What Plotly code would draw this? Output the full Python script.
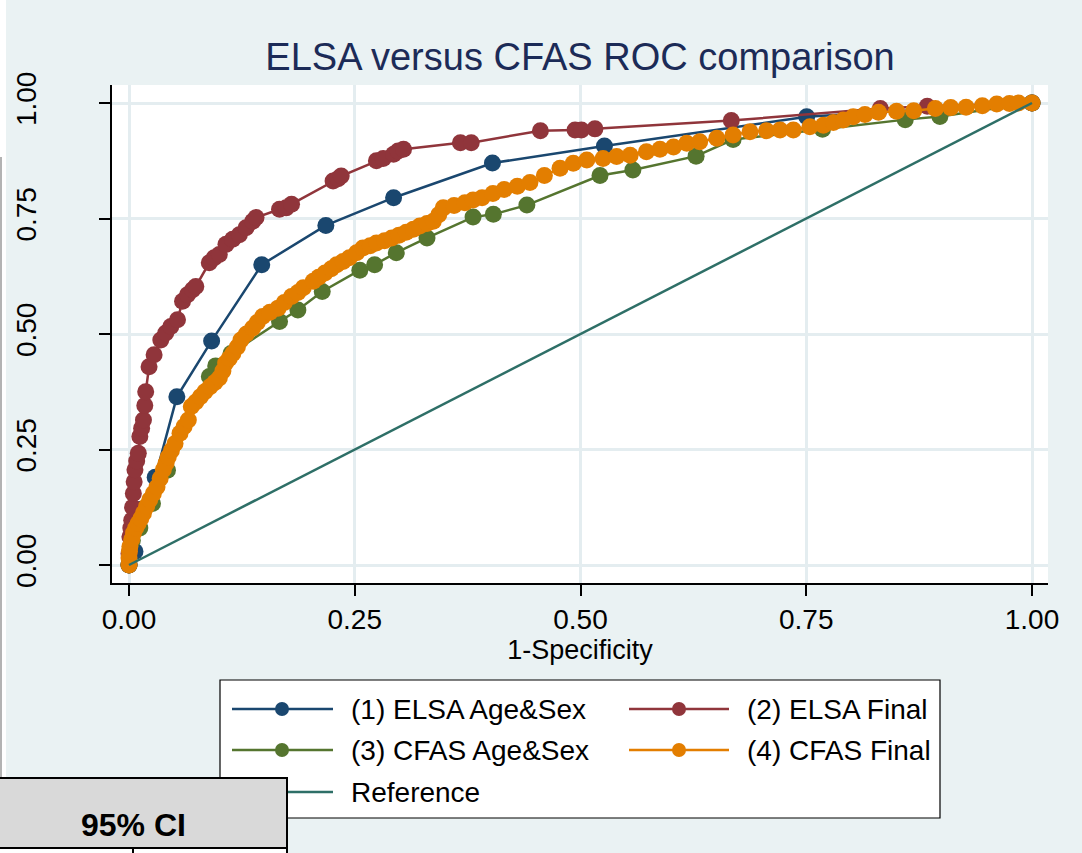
import plotly.graph_objects as go

# ---------------- data ----------------
elsa_agesex_x = [0.0, 0.0066, 0.012, 0.029, 0.053, 0.0915, 0.147, 0.218, 0.293, 0.4025, 0.5265, 0.7505, 1.0]
elsa_agesex_y = [0.0, 0.029, 0.120, 0.190, 0.364, 0.485, 0.650, 0.735, 0.795, 0.870, 0.907, 0.970, 1.0]

elsa_final_x = [0.0, 0.0, 0.001, 0.002, 0.003, 0.004, 0.0048, 0.0057, 0.0066, 0.0085, 0.0103, 0.012,
                0.014, 0.016, 0.0175, 0.0185, 0.0222, 0.0278, 0.0352, 0.0407, 0.0463, 0.0537, 0.0593,
                0.0648, 0.0704, 0.074, 0.0889, 0.0944, 0.100, 0.1074, 0.1148, 0.1222, 0.1296, 0.137,
                0.1407, 0.1667, 0.174, 0.180, 0.226, 0.2315, 0.235, 0.274, 0.2815, 0.293, 0.298, 0.304,
                0.367, 0.379, 0.4556, 0.494, 0.501, 0.516, 0.667, 0.832, 0.884, 1.0]
elsa_final_y = [0.0, 0.025, 0.061, 0.080, 0.097, 0.125, 0.155, 0.180, 0.206, 0.225, 0.242, 0.278,
                0.296, 0.314, 0.345, 0.375, 0.429, 0.455, 0.487, 0.502, 0.516, 0.531, 0.571,
                0.585, 0.596, 0.603, 0.654, 0.665, 0.672, 0.694, 0.705, 0.715, 0.730, 0.744,
                0.752, 0.770, 0.773, 0.781, 0.831, 0.836, 0.842, 0.875, 0.880, 0.889, 0.896, 0.900,
                0.914, 0.914, 0.940, 0.9416, 0.9416, 0.944, 0.962, 0.988, 0.993, 1.0]

cfas_agesex_x = [0.0, 0.0037, 0.012, 0.026, 0.0426, 0.089, 0.096, 0.113, 0.1667, 0.187, 0.214, 0.2556,
                 0.272, 0.296, 0.330, 0.381, 0.4035, 0.4406, 0.5216, 0.558, 0.628, 0.669, 0.768,
                 0.8596, 0.898, 1.0]
cfas_agesex_y = [0.0, 0.053, 0.080, 0.133, 0.205, 0.408, 0.431, 0.458, 0.527, 0.552, 0.592, 0.638,
                 0.650, 0.676, 0.708, 0.753, 0.759, 0.779, 0.843, 0.855, 0.885, 0.921, 0.943,
                 0.964, 0.971, 1.0]

cfas_final_x = [0.0, 0.0, 0.0005, 0.001, 0.003, 0.005, 0.0075, 0.010, 0.013, 0.016, 0.0195, 0.023,
                0.027, 0.031, 0.0345, 0.038, 0.041, 0.0435, 0.047, 0.051, 0.0565, 0.061, 0.0657,
                0.069, 0.074, 0.079, 0.084, 0.0897, 0.095, 0.100, 0.104, 0.107, 0.111, 0.115, 0.120,
                0.124, 0.130, 0.137, 0.142, 0.148, 0.156, 0.165, 0.172, 0.180, 0.187, 0.193, 0.204,
                0.210, 0.217, 0.224, 0.230, 0.237, 0.244, 0.252, 0.259, 0.267, 0.274, 0.283, 0.291,
                0.299, 0.307, 0.315, 0.322, 0.330, 0.337, 0.343, 0.348, 0.360, 0.372, 0.381, 0.391,
                0.403, 0.4155, 0.430, 0.444, 0.460, 0.4773, 0.492, 0.507, 0.525, 0.540, 0.555,
                0.573, 0.588, 0.603, 0.6176, 0.632, 0.651, 0.669, 0.6877, 0.706, 0.721, 0.7357,
                0.754, 0.769, 0.780, 0.791, 0.802, 0.815, 0.830, 0.850, 0.869, 0.893, 0.910, 0.927,
                0.945, 0.961, 0.975, 0.985, 1.0]
cfas_final_y = [0.0, 0.015, 0.030, 0.040, 0.055, 0.069, 0.080, 0.090, 0.100, 0.112, 0.127, 0.141,
                0.155, 0.169, 0.187, 0.206, 0.220, 0.234, 0.248, 0.263, 0.285, 0.300, 0.314,
                0.343, 0.353, 0.364, 0.375, 0.386, 0.395, 0.405, 0.420, 0.437, 0.447, 0.458, 0.472,
                0.487, 0.500, 0.513, 0.525, 0.538, 0.547, 0.556, 0.568, 0.581, 0.590, 0.600, 0.614,
                0.623, 0.632, 0.641, 0.650, 0.657, 0.665, 0.676, 0.686, 0.691, 0.697, 0.702, 0.708,
                0.714, 0.720, 0.727, 0.734, 0.739, 0.744, 0.758, 0.773, 0.778, 0.784, 0.790, 0.795,
                0.804, 0.813, 0.820, 0.828, 0.843, 0.8586, 0.8695, 0.8766, 0.880, 0.884, 0.887,
                0.8946, 0.900, 0.905, 0.9127, 0.916, 0.9236, 0.9307, 0.938, 0.940, 0.9416, 0.9416,
                0.9487, 0.952, 0.958, 0.963, 0.970, 0.975, 0.980, 0.982, 0.983, 0.988, 0.990, 0.991,
                0.994, 0.998, 0.999, 1.0, 1.0]

reference_x = [0.0, 1.0]
reference_y = [0.0, 1.0]

tick_vals = [0.0, 0.25, 0.5, 0.75, 1.0]
tick_text = ["0.00", "0.25", "0.50", "0.75", "1.00"]

series_names = ["(1) ELSA Age&Sex", "(2) ELSA Final", "(3) CFAS Age&Sex", "(4) CFAS Final", "Reference"]
colors = ["#1a476f", "#90353b", "#55752f", "#e37e00", "#2e6f67"]

title_text = "ELSA versus CFAS ROC comparison"
xaxis_title = "1-Specificity"
table_header = "95% CI"

# ---------------- layout geometry ----------------
W, H = 1082, 853
ML, MR, MT, MB = 112, 34, 85, 270
PW, PH = W - ML - MR, H - MT - MB
FONT = "Liberation Sans, Arial, sans-serif"
BG = "#eaf2f3"


def px(x):
    return (x - ML) / PW


def py(y):
    return (H - MB - y) / PH


fig = go.Figure()

series = [
    (elsa_agesex_x, elsa_agesex_y, 0),
    (elsa_final_x, elsa_final_y, 1),
    (cfas_agesex_x, cfas_agesex_y, 2),
    (cfas_final_x, cfas_final_y, 3),
]
for xs, ys, i in series:
    fig.add_trace(go.Scatter(
        x=xs, y=ys, mode="lines+markers", name=series_names[i],
        line=dict(color=colors[i], width=2.5),
        marker=dict(color=colors[i], size=17, line=dict(width=0)),
        showlegend=False, cliponaxis=False,
    ))
fig.add_trace(go.Scatter(
    x=reference_x, y=reference_y, mode="lines", name=series_names[4],
    line=dict(color=colors[4], width=2.5), showlegend=False,
))

# axis ranges such that 0 and 1 sit inside the white plot region like Stata
x_lo, x_hi = -17 / 903, 919 / 903
y_lo, y_hi = -18 / 462, 480 / 462

fig.update_xaxes(
    range=[x_lo, x_hi], tickvals=tick_vals, ticktext=tick_text,
    showgrid=True, gridcolor="#e4edf0", gridwidth=2.5, zeroline=False,
    showline=True, linecolor="black", linewidth=1.5,
    ticks="outside", ticklen=11, tickwidth=1.5, tickcolor="black",
    tickfont=dict(family=FONT, size=28, color="black"),
    title=dict(text=xaxis_title, font=dict(family=FONT, size=27, color="black"), standoff=0),
)
fig.update_yaxes(
    range=[y_lo, y_hi], tickvals=tick_vals, ticktext=tick_text,
    showgrid=True, gridcolor="#e4edf0", gridwidth=2.5, zeroline=False,
    showline=True, linecolor="black", linewidth=1.5,
    ticks="outside", ticklen=11, tickwidth=1.5, tickcolor="black",
    tickangle=-90, ticklabelstandoff=52,
    tickfont=dict(family=FONT, size=28, color="black"),
)

shapes = []
annotations = []

# ---- custom Stata-style legend box ----
lg_l, lg_t, lg_r, lg_b = 220, 680, 940, 818
shapes.append(dict(type="rect", xref="paper", yref="paper",
                   x0=px(lg_l), x1=px(lg_r), y0=py(lg_b), y1=py(lg_t),
                   fillcolor="white", line=dict(color="black", width=1.2), layer="above"))
rows = [709, 750, 792]
col_line = [(232, 333, 282, 349), (629, 729, 679, 745)]
entries = [(0, 0, 0), (1, 0, 1), (2, 1, 0), (3, 1, 1), (4, 2, 0)]
r = 7
for idx, row, col in entries:
    yy = rows[row]
    x0, x1, xm, xt = col_line[col]
    shapes.append(dict(type="line", xref="paper", yref="paper",
                       x0=px(x0), x1=px(x1), y0=py(yy), y1=py(yy),
                       line=dict(color=colors[idx], width=2.5), layer="above"))
    if idx < 4:
        shapes.append(dict(type="circle", xref="paper", yref="paper",
                           x0=px(xm - r), x1=px(xm + r), y0=py(yy + r), y1=py(yy - r),
                           fillcolor=colors[idx], line=dict(width=0), layer="above"))
    annotations.append(dict(xref="paper", yref="paper", x=px(xt), y=py(yy),
                            xanchor="left", yanchor="middle", showarrow=False,
                            text=series_names[idx],
                            font=dict(family=FONT, size=28, color="black")))

# ---- overlapping table fragments from the source page ----
shapes.append(dict(type="rect", xref="paper", yref="paper",
                   x0=px(0), x1=px(6), y0=py(777), y1=py(0),
                   fillcolor="white", line=dict(width=0), layer="above"))
shapes.append(dict(type="line", xref="paper", yref="paper",
                   x0=px(1), x1=px(1), y0=py(777), y1=py(157),
                   line=dict(color="#9a9a9a", width=1.5), layer="above"))
shapes.append(dict(type="rect", xref="paper", yref="paper",
                   x0=px(-2), x1=px(287), y0=py(860), y1=py(848),
                   fillcolor="white", line=dict(color="black", width=2), layer="above"))
shapes.append(dict(type="rect", xref="paper", yref="paper",
                   x0=px(-2), x1=px(287), y0=py(848), y1=py(778),
                   fillcolor="#d9d9d9", line=dict(color="black", width=2), layer="above"))
shapes.append(dict(type="line", xref="paper", yref="paper",
                   x0=px(133), x1=px(133), y0=py(860), y1=py(848),
                   line=dict(color="black", width=2), layer="above"))
annotations.append(dict(xref="paper", yref="paper", x=px(133), y=py(825),
                        xanchor="center", yanchor="middle", showarrow=False,
                        text="<b>" + table_header + "</b>",
                        font=dict(family=FONT, size=32, color="black")))

fig.update_layout(
    width=W, height=H,
    margin=dict(l=ML, r=MR, t=MT, b=MB),
    paper_bgcolor=BG, plot_bgcolor="white",
    title=dict(text=title_text, x=0.5, xref="paper", xanchor="center",
               y=1 - 57 / H, yref="container", yanchor="middle",
               font=dict(family=FONT, size=38, color="#1c2b57")),
    shapes=shapes, annotations=annotations,
    showlegend=False,
)

fig.write_html("out.html")
